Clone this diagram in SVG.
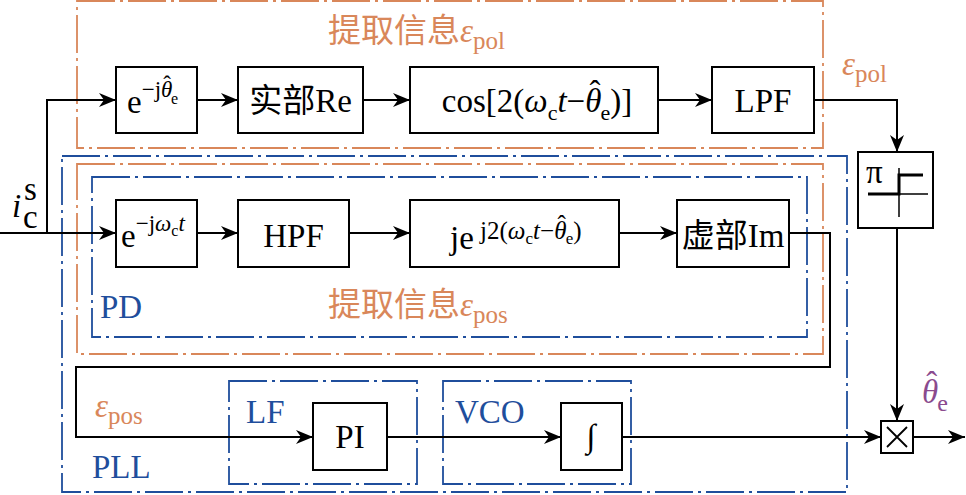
<svg xmlns="http://www.w3.org/2000/svg" width="966" height="495" viewBox="0 0 966 495">
<style>
.t{font-family:"Liberation Serif","Times New Roman","Noto Sans CJK SC",serif;font-size:33px;fill:#000}
.c{text-anchor:middle}
.i{font-style:italic}
.or{fill:#D9875A}
.bl{fill:#1F4E9C}
.pu{fill:#8A4A8E}
.box{fill:#fff;stroke:#000;stroke-width:2}
.ln{fill:none;stroke:#000;stroke-width:2}
.dob{fill:none;stroke:#D9875A;stroke-width:1.8;stroke-dasharray:38 5 3 5}
.dbb{fill:none;stroke:#1F4E9C;stroke-width:1.8;stroke-dasharray:38 5 3 5}
</style>
<defs>
<marker id="ar" markerUnits="userSpaceOnUse" markerWidth="18" markerHeight="14" refX="17" refY="7" orient="auto">
<path d="M0,0 L17,7 L0,14 L5,7 z" fill="#000"/>
</marker>
</defs>

<g id="frames">
<rect class="dob" x="77" y="1" width="746" height="147"/>
<rect class="dbb" x="62" y="156" width="785" height="336"/>
<rect class="dob" x="77" y="164" width="746" height="190"/>
<rect class="dbb" x="92" y="177" width="715" height="160"/>
<rect class="dbb" x="229" y="381" width="188" height="103"/>
<rect class="dbb" x="443" y="381" width="188" height="103"/>
</g>

<g id="connectors">
<path class="ln" d="M0,233 H116" marker-end="url(#ar)"/>
<path class="ln" d="M47,233 V100 H116" marker-end="url(#ar)"/>
<path class="ln" d="M197,100 H238" marker-end="url(#ar)"/>
<path class="ln" d="M363,100 H410" marker-end="url(#ar)"/>
<path class="ln" d="M658,100 H712" marker-end="url(#ar)"/>
<path class="ln" d="M814,100 H897 V152" marker-end="url(#ar)"/>
<path class="ln" d="M897,228 V421" marker-end="url(#ar)"/>
<path class="ln" d="M197,233 H238" marker-end="url(#ar)"/>
<path class="ln" d="M349,233 H410" marker-end="url(#ar)"/>
<path class="ln" d="M619,233 H677" marker-end="url(#ar)"/>
<path class="ln" d="M789,233 H830 V367 H76 V437 H313" marker-end="url(#ar)"/>
<path class="ln" d="M387,437 H561" marker-end="url(#ar)"/>
<path class="ln" d="M622,437 H881" marker-end="url(#ar)"/>
<path class="ln" d="M913,437 H965" marker-end="url(#ar)"/>
</g>

<g id="rot1">
<rect class="box" x="116" y="67" width="81" height="66"/>
<text class="t" x="127" y="113">e<tspan font-size="23" dy="-16">−j</tspan><tspan class="i" font-size="23">θ</tspan><tspan font-size="23" dx="-9" dy="-5">ˆ</tspan><tspan font-size="16" dy="12">e</tspan></text>
</g>
<g id="re">
<rect class="box" x="238" y="67" width="125" height="66"/>
<text class="t c" x="300.5" y="112">实部Re</text>
</g>
<g id="cos">
<rect class="box" x="410" y="67" width="248" height="66"/>
<text class="t c" x="537" y="112">cos[2(<tspan class="i">ω</tspan><tspan font-size="22" dy="8">c</tspan><tspan class="i" dy="-8">t</tspan>−<tspan class="i">θ</tspan><tspan dx="-12" dy="-8">ˆ</tspan><tspan font-size="22" dy="16">e</tspan><tspan dy="-8">)]</tspan></text>
</g>
<g id="lpf">
<rect class="box" x="712" y="67" width="102" height="66"/>
<text class="t c" x="763" y="112">LPF</text>
</g>

<g id="rot2">
<rect class="box" x="116" y="200" width="81" height="67"/>
<text class="t" x="121" y="247">e<tspan font-size="23" dy="-16">−j</tspan><tspan class="i" font-size="23">ω</tspan><tspan font-size="16" dy="5">c</tspan><tspan class="i" font-size="23" dy="-5">t</tspan></text>
</g>
<g id="hpf">
<rect class="box" x="238" y="200" width="111" height="67"/>
<text class="t c" x="293.5" y="247">HPF</text>
</g>
<g id="je">
<rect class="box" x="410" y="200" width="209" height="67"/>
<text class="t" x="450" y="249">je<tspan font-size="25" dy="-10"> j2(</tspan><tspan class="i" font-size="25">ω</tspan><tspan font-size="17" dy="5">c</tspan><tspan class="i" font-size="25" dy="-5">t</tspan><tspan font-size="25">−</tspan><tspan class="i" font-size="25">θ</tspan><tspan font-size="25" dx="-9" dy="-6">ˆ</tspan><tspan font-size="17" dy="11">e</tspan><tspan font-size="25" dy="-5">)</tspan></text>
</g>
<g id="im">
<rect class="box" x="677" y="200" width="112" height="67"/>
<text class="t c" x="733" y="247">虚部Im</text>
</g>

<g id="pi">
<rect class="box" x="858" y="152" width="75" height="76"/>
<text class="t" x="866" y="183" font-size="30">π</text>
<path d="M868,194 H928 M899,168 V217" fill="none" stroke="#000" stroke-width="1.5"/>
<path d="M868,194 H899 V175 H923" fill="none" stroke="#000" stroke-width="3"/>
</g>

<g id="mul">
<rect class="box" x="881" y="421" width="32" height="32"/>
<path d="M887,427 L907,447 M907,427 L887,447" fill="none" stroke="#000" stroke-width="1.8"/>
</g>

<g id="pictl">
<rect class="box" x="313" y="403" width="74" height="67"/>
<text class="t c" x="350" y="448">PI</text>
</g>
<g id="integ">
<rect class="box" x="561" y="403" width="61" height="67"/>
<text class="t c i" x="591" y="447" font-size="30">∫</text>
</g>

<g id="labels">
<text class="t i" x="12" y="217">i</text>
<text class="t" x="24" y="200" font-size="22">s</text>
<text class="t" x="23" y="228" font-size="22">c</text>
<text class="t or" x="328" y="42" font-size="31">提取信息<tspan class="i">ε</tspan><tspan font-size="25" dy="7">pol</tspan></text>
<text class="t or" x="328" y="316" font-size="31">提取信息<tspan class="i">ε</tspan><tspan font-size="25" dy="7">pos</tspan></text>
<text class="t or" x="842" y="75" font-size="31"><tspan class="i">ε</tspan><tspan font-size="25" dy="7">pol</tspan></text>
<text class="t or" x="95" y="417" font-size="31"><tspan class="i">ε</tspan><tspan font-size="25" dy="7">pos</tspan></text>
<text class="t bl" x="100" y="318">PD</text>
<text class="t bl" x="92" y="478">PLL</text>
<text class="t bl" x="246" y="423">LF</text>
<text class="t bl" x="455" y="423">VCO</text>
<text class="t pu" x="922" y="403"><tspan class="i">θ</tspan><tspan dx="-12" dy="-8">ˆ</tspan><tspan font-size="24" dy="16">e</tspan></text>
</g>
</svg>
